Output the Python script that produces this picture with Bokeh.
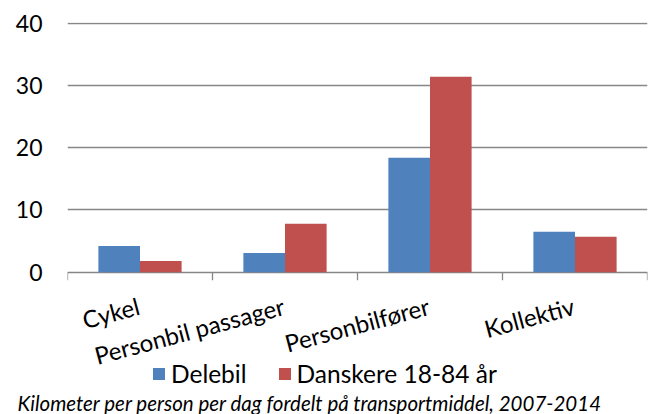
import math
from bokeh.plotting import figure
from bokeh.models import (ColumnDataSource, Range1d, FixedTicker, LabelSet,
                          Legend, LegendItem, Title)
from bokeh.core.properties import value
from bokeh.embed import file_html
from bokeh.resources import INLINE

categories = ["Cykel", "Personbil passager", "Personbilfører", "Kollektiv"]
delebil = [4.2, 3.1, 18.4, 6.5]
danskere = [1.8, 7.8, 31.4, 5.7]
series_names = ["Delebil", "Danskere 18-84 år"]
y_ticks = [0, 10, 20, 30, 40]
caption = "Kilometer per person per dag fordelt på transportmiddel, 2007-2014"

FONT = "Lato"
GRID = "#878787"
BLUE = "#4F81BD"
RED = "#C0504D"

# layout (pixels)
W, H = 652, 414
LEFT, RIGHT, TOP, BOTTOM = 67, 5, 22, 26
ZERO_Y = 271.7          # pixel row of the value 0
PX_PER_UNIT = 6.225     # pixels per km
TICK_LEN = 8

n = len(categories)
bw = 0.287
centers = [i + 0.5 for i in range(n)]
edges = list(range(n + 1))
src = ColumnDataSource(dict(cat=categories, center=centers,
                            x1=[c - bw / 2 for c in centers],
                            x2=[c + bw / 2 for c in centers],
                            delebil=delebil, danskere=danskere))

y_end = (ZERO_Y - TOP) / PX_PER_UNIT
y_start = -((H - BOTTOM) - ZERO_Y) / PX_PER_UNIT

p = figure(width=W, height=H, output_backend="svg", toolbar_location=None,
           x_range=Range1d(0, n), y_range=Range1d(y_start, y_end), x_axis_location=None,
           min_border_left=LEFT, min_border_right=RIGHT, min_border_top=TOP,
           min_border_bottom=BOTTOM)
p.outline_line_color = None
p.background_fill_color = "white"
p.border_fill_color = "white"

r1 = p.vbar(x="x1", top="delebil", width=bw, source=src, fill_color=BLUE, line_color=None)
r2 = p.vbar(x="x2", top="danskere", width=bw, source=src, fill_color=RED, line_color=None)

# y axis
p.yaxis.ticker = FixedTicker(ticks=y_ticks)
p.yaxis.axis_line_color = None
p.yaxis.major_tick_line_color = None
p.yaxis.minor_tick_line_color = None
p.yaxis.major_tick_out = 0
p.yaxis.major_tick_in = 0
p.yaxis.major_label_standoff = 25
p.yaxis.major_label_text_font = FONT
p.yaxis.major_label_text_font_size = "23px"
p.yaxis.major_label_text_color = "black"

p.ygrid.ticker = FixedTicker(ticks=y_ticks)
p.ygrid.grid_line_color = GRID
p.ygrid.grid_line_width = 1.3
p.xgrid.grid_line_color = None

# category-boundary tick marks below the zero line
tick_len = TICK_LEN / PX_PER_UNIT
p.segment(x0=edges, y0=[0] * len(edges), x1=edges, y1=[-tick_len] * len(edges),
          line_color=GRID, line_width=1.3)

# rotated category labels
labels = LabelSet(x="center", y=0, text="cat", source=src, angle=math.radians(15),
                  text_align="right", text_baseline="top", y_offset=-19, x_offset=-5,
                  text_font=value(FONT), text_font_size="24px", text_color="black")
p.add_layout(labels)

legend = Legend(items=[LegendItem(label=series_names[0], renderers=[r1]),
                       LegendItem(label=series_names[1], renderers=[r2])],
                orientation="horizontal", location=(84, 0),
                label_text_font=FONT, label_text_font_size="24.5px", label_text_color="black",
                glyph_width=15, glyph_height=15, spacing=30, padding=0, margin=0,
                label_standoff=5, border_line_color=None, background_fill_alpha=0)
p.add_layout(legend)

cap = Title(text=caption, align="left", offset=-50, standoff=0,
            text_font=FONT, text_font_size="20.5px", text_font_style="italic",
            text_color="black")
p.add_layout(cap, "below")

open("out.html", "w").write(file_html(p, INLINE))
